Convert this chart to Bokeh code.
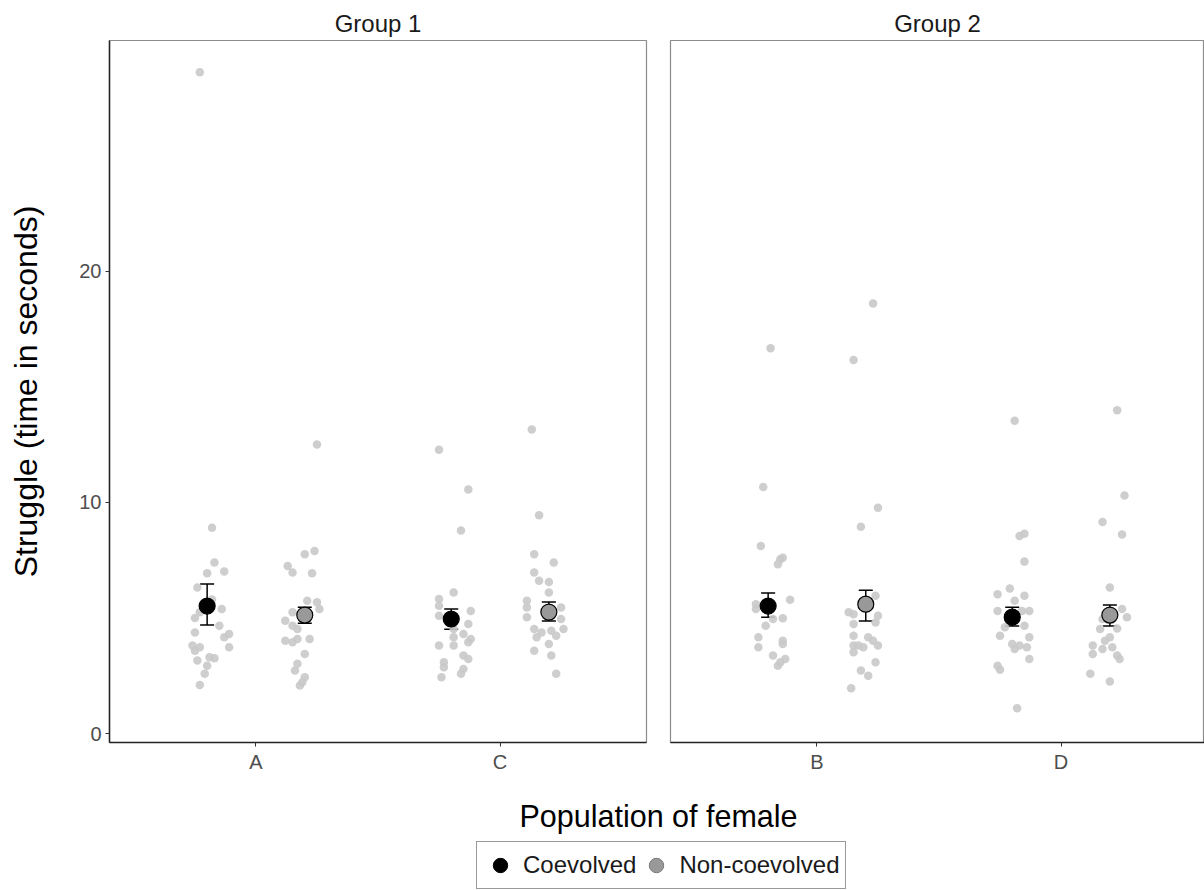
from bokeh.plotting import figure
from bokeh.layouts import column, row
from bokeh.models import (Range1d, FixedTicker, Legend, LegendItem, Whisker,
                          ColumnDataSource, TeeHead)
from bokeh.core.properties import value
from bokeh.embed import file_html
from bokeh.resources import INLINE

# ---------------- data ----------------
group_titles = ["Group 1", "Group 2"]
group1_populations = ["A", "C"]
group2_populations = ["B", "D"]
treatments = ["Coevolved", "Non-coevolved"]
y_ticks = [0, 10, 20]

# individual observations: value (s) and horizontal jitter (category units)
a_co_values = [28.6, 8.9, 7.4, 6.94, 7.01, 6.32, 5.8, 5.39, 5.25, 5.0, 4.67, 4.38, 4.31, 4.17,
               3.81, 3.74, 3.74, 3.59, 3.31, 3.26, 3.16, 2.94, 2.59, 2.11]
a_co_jitter = [-0.03, 0.02, 0.03, 0.00, 0.07, -0.04, 0.02, 0.06, -0.03, -0.05, 0.05, -0.05, 0.09, 0.07,
               -0.06, -0.03, 0.09, -0.05, 0.01, 0.03, -0.04, 0.00, -0.01, -0.03]
a_non_values = [12.5, 7.9, 7.76, 7.25, 6.97, 6.94, 5.75, 5.68, 5.39, 5.25, 4.88, 4.67, 4.53, 4.02,
                3.95, 4.09, 4.09, 3.45, 3.02, 2.73, 2.44, 2.23, 2.08]
a_non_jitter = [0.05, 0.04, 0.00, -0.07, -0.05, 0.03, 0.01, 0.05, 0.06, -0.05, -0.08, -0.05, -0.03, -0.08,
                -0.05, -0.03, 0.02, 0.00, -0.03, -0.04, 0.00, -0.01, -0.02]
c_co_values = [12.28, 10.56, 8.79, 6.1, 5.82, 5.53, 5.31, 5.1, 4.74, 4.53, 4.31, 4.09, 4.17, 3.81,
               3.81, 3.95, 3.38, 3.23, 3.09, 2.87, 2.8, 2.59, 2.44]
c_co_jitter = [-0.05, 0.07, 0.04, 0.01, -0.05, -0.05, 0.08, -0.05, 0.07, 0.01, 0.05, 0.08, 0.01, 0.01,
               -0.05, 0.07, 0.05, 0.07, -0.03, -0.03, 0.05, 0.04, -0.04]
c_non_values = [13.15, 9.44, 7.76, 7.4, 6.97, 6.61, 6.56, 6.1, 5.75, 5.46, 5.46, 5.03, 4.96, 4.53,
                4.38, 4.45, 4.53, 4.17, 4.24, 3.88, 3.59, 3.38, 2.59]
c_non_jitter = [-0.07, -0.04, -0.06, 0.02, -0.06, -0.04, 0.00, 0.00, -0.09, -0.09, 0.05, -0.09, 0.05, -0.06,
                -0.03, 0.01, 0.06, -0.05, 0.03, 0.00, -0.06, 0.01, 0.03]
b_co_values = [16.67, 10.67, 8.12, 7.54, 7.61, 7.33, 5.6, 5.79, 5.39, 4.99, 4.96, 4.67, 4.17, 4.02,
               3.88, 3.74, 3.38, 3.23, 2.94, 3.09]
b_co_jitter = [0.01, -0.02, -0.03, 0.05, 0.06, 0.04, -0.05, 0.09, -0.05, 0.06, 0.02, -0.01, -0.04, 0.06,
               0.06, -0.04, 0.02, 0.07, 0.04, 0.05]
b_non_values = [18.6, 16.16, 9.77, 8.95, 5.96, 5.25, 5.17, 5.1, 4.81, 4.74, 4.24, 4.17, 4.02, 3.81,
                3.81, 3.74, 3.81, 3.52, 3.09, 2.73, 2.51, 1.97]
b_non_jitter = [0.03, -0.05, 0.05, -0.02, 0.04, -0.07, -0.05, 0.05, 0.04, -0.05, -0.05, 0.01, 0.03, -0.05,
                -0.03, -0.01, 0.05, -0.05, 0.04, -0.02, 0.01, -0.06]
d_co_values = [13.53, 8.55, 8.65, 7.44, 6.28, 6.03, 5.96, 5.75, 5.31, 5.31, 5.31, 4.6, 4.67, 4.24,
               4.17, 3.88, 3.81, 3.74, 3.66, 3.23, 2.94, 2.77, 1.1]
d_co_jitter = [0.01, 0.03, 0.05, 0.05, -0.01, -0.06, 0.05, 0.01, -0.06, 0.07, 0.04, -0.03, 0.05, -0.05,
               0.07, 0.00, 0.03, 0.06, 0.01, 0.07, -0.06, -0.05, 0.02]
d_non_values = [13.98, 10.3, 9.15, 8.61, 6.32, 5.39, 5.03, 4.96, 4.53, 4.55, 4.17, 4.02, 3.74, 3.81,
                3.66, 3.38, 3.45, 3.23, 2.59, 2.26]
d_non_jitter = [0.03, 0.06, -0.03, 0.05, 0.00, 0.05, 0.07, -0.03, -0.04, 0.03, 0.00, -0.02, 0.01, -0.07,
                -0.03, 0.03, -0.07, 0.04, -0.08, 0.00]

# means and standard-error bounds, order: A, C, B, D
mean_populations = ["A", "C", "B", "D"]
co_mean = [5.52, 4.96, 5.52, 5.04]
co_lower = [4.70, 4.52, 5.04, 4.66]
co_upper = [6.47, 5.39, 6.08, 5.47]
non_mean = [5.13, 5.26, 5.60, 5.13]
non_lower = [4.78, 4.87, 4.87, 4.66]
non_upper = [5.47, 5.69, 6.20, 5.56]

raw = {
    ("A", "Coevolved"): (a_co_values, a_co_jitter),
    ("A", "Non-coevolved"): (a_non_values, a_non_jitter),
    ("C", "Coevolved"): (c_co_values, c_co_jitter),
    ("C", "Non-coevolved"): (c_non_values, c_non_jitter),
    ("B", "Coevolved"): (b_co_values, b_co_jitter),
    ("B", "Non-coevolved"): (b_non_values, b_non_jitter),
    ("D", "Coevolved"): (d_co_values, d_co_jitter),
    ("D", "Non-coevolved"): (d_non_values, d_non_jitter),
}

# ---------------- style ----------------
FONT = "Liberation Sans"
DODGE = {"Coevolved": -0.2, "Non-coevolved": 0.2}
POINT_COLOR = "#c9c9c9"
MEAN_FILL = {"Coevolved": "#000000", "Non-coevolved": "#999999"}
UNIT_PX = 537 / 2.2
FRAME_H = 702
Y_RANGE = (-0.38, 29.97)


def make_panel(title, pops, frame_width, left_border, right_border, show_y):
    x_end = 0.4 + frame_width / UNIT_PX
    p = figure(frame_width=frame_width, frame_height=FRAME_H,
               x_range=Range1d(0.4, x_end), y_range=Range1d(*Y_RANGE),
               output_backend="svg", toolbar_location=None,
               min_border_left=left_border, min_border_right=right_border,
               min_border_top=40, min_border_bottom=48,
               background_fill_color="white", border_fill_color="white")
    p.title.text = title
    p.title.align = "center"
    p.title.text_font = FONT
    p.title.text_font_size = "24px"
    p.title.text_font_style = "normal"
    p.title.text_color = "#1a1a1a"
    p.title.standoff = 8
    p.grid.visible = False
    p.outline_line_color = "#8c8c8c"
    p.outline_line_width = 1.2

    ax = p.xaxis[0]
    ax.ticker = FixedTicker(ticks=[1, 2])
    ax.major_label_overrides = {1: pops[0], 2: pops[1]}
    ax.minor_tick_line_color = None
    ax.major_tick_in = 0
    ax.major_tick_out = 4
    ax.major_tick_line_color = "#333333"
    ax.axis_line_color = "#222222"
    ax.axis_line_width = 1.5
    ax.major_label_text_font = FONT
    ax.major_label_text_font_size = "20px"
    ax.major_label_text_color = "#4d4d4d"
    ax.major_label_standoff = 4

    ay = p.yaxis[0]
    if show_y:
        ay.ticker = FixedTicker(ticks=y_ticks)
        ay.minor_tick_line_color = None
        ay.major_tick_in = 0
        ay.major_tick_out = 4
        ay.major_tick_line_color = "#333333"
        ay.axis_line_color = "#222222"
        ay.axis_line_width = 1.5
        ay.major_label_text_font = FONT
        ay.major_label_text_font_size = "20px"
        ay.major_label_text_color = "#4d4d4d"
        ay.major_label_standoff = 4
        ay.axis_label = "Struggle (time in seconds)"
        ay.axis_label_text_font = FONT
        ay.axis_label_text_font_size = "32px"
        ay.axis_label_text_font_style = "normal"
        ay.axis_label_text_color = "#000000"
        ay.axis_label_standoff = 32
    else:
        ay.visible = False

    # raw observations
    for i, pop in enumerate(pops):
        for tr in treatments:
            vals, jit = raw[(pop, tr)]
            xs = [i + 1 + DODGE[tr] + j for j in jit]
            p.scatter(xs, vals, size=8.5, fill_color=POINT_COLOR, line_color=None, alpha=0.9)

    # means with standard-error bars
    for tr, m, lo, hi in (("Coevolved", co_mean, co_lower, co_upper),
                          ("Non-coevolved", non_mean, non_lower, non_upper)):
        xs, ms, los, his = [], [], [], []
        for i, pop in enumerate(pops):
            k = mean_populations.index(pop)
            xs.append(i + 1 + DODGE[tr])
            ms.append(m[k]); los.append(lo[k]); his.append(hi[k])
        src = ColumnDataSource(dict(x=xs, m=ms, lo=los, hi=his))
        w = Whisker(source=src, base="x", lower="lo", upper="hi", dimension="height",
                    line_color="black", line_width=1.5,
                    lower_head=TeeHead(size=14, line_color="black", line_width=1.5),
                    upper_head=TeeHead(size=14, line_color="black", line_width=1.5))
        p.add_layout(w)
        p.scatter("x", "m", source=src, size=16, fill_color=MEAN_FILL[tr],
                  line_color="black", line_width=1.2)
    return p


p1 = make_panel(group_titles[0], group1_populations, 537, 109, 12, True)
p2 = make_panel(group_titles[1], group2_populations, 534, 12, 0, False)

# bottom strip: x-axis title and legend
pb = figure(width=1204, height=100, x_range=Range1d(0, 1204), y_range=Range1d(0, 100),
            output_backend="svg", toolbar_location=None,
            min_border=0, background_fill_color="white", border_fill_color="white")
pb.axis.visible = False
pb.grid.visible = False
pb.outline_line_color = None
pb.text(x=[658], y=[75], text=["Population of female"], text_font=value(FONT),
        text_font_size="30.5px", text_align="center", text_baseline="middle",
        text_color="#000000")
nan = float("nan")
r_co = pb.scatter(x=[nan], y=[nan], fill_color=MEAN_FILL["Coevolved"], line_color="black")
r_non = pb.scatter(x=[nan], y=[nan], fill_color=MEAN_FILL["Non-coevolved"], line_color="#777777")
legend = Legend(items=[LegendItem(label=treatments[0], renderers=[r_co]),
                       LegendItem(label=treatments[1], renderers=[r_non])],
                orientation="horizontal", location=(476, 1),
                label_text_font=FONT, label_text_font_size="24px",
                label_text_color="#1a1a1a",
                border_line_color="#333333", border_line_width=1.5,
                padding=5, spacing=2, margin=0,
                glyph_width=36, glyph_height=36, label_height=36, label_standoff=5)
pb.add_layout(legend, "center")

layout = column(row(p1, p2), pb)
open("out.html", "w").write(file_html(layout, INLINE))
